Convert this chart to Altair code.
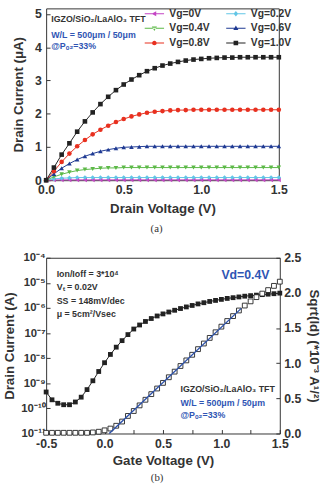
import altair as alt
import pandas as pd

FONT = "Liberation Sans"
SERIF = "Liberation Serif"
TXT = "#333333"
BLUE = "#2f55b4"

# ---------------- panel (a): output characteristics ----------------
drain_v = [0.00, 0.05, 0.10, 0.15, 0.20, 0.25, 0.30, 0.35, 0.40, 0.45,
           0.50, 0.55, 0.60, 0.65, 0.70, 0.75, 0.80, 0.85, 0.90, 0.95,
           1.00, 1.05, 1.10, 1.15, 1.20, 1.25, 1.30, 1.35, 1.40, 1.45, 1.50]
id_vg00 = [0.00, 0.01, 0.01, 0.01, 0.01, 0.01, 0.01, 0.01, 0.01, 0.01,
           0.01, 0.01, 0.01, 0.01, 0.01, 0.01, 0.01, 0.01, 0.01, 0.01,
           0.01, 0.01, 0.01, 0.01, 0.01, 0.01, 0.01, 0.01, 0.01, 0.01, 0.01]
id_vg02 = [0.00, 0.04, 0.06, 0.07, 0.08, 0.08, 0.08, 0.08, 0.08, 0.08,
           0.08, 0.08, 0.08, 0.08, 0.08, 0.08, 0.08, 0.08, 0.08, 0.08,
           0.08, 0.08, 0.08, 0.08, 0.08, 0.08, 0.08, 0.08, 0.08, 0.08, 0.08]
id_vg04 = [0.00, 0.10, 0.18, 0.24, 0.29, 0.32, 0.34, 0.36, 0.37, 0.37,
           0.38, 0.38, 0.38, 0.38, 0.38, 0.38, 0.38, 0.38, 0.38, 0.38,
           0.38, 0.38, 0.38, 0.38, 0.38, 0.38, 0.38, 0.38, 0.38, 0.38, 0.38]
id_vg06 = [0.00, 0.19, 0.36, 0.50, 0.62, 0.72, 0.80, 0.87, 0.92, 0.96,
           0.99, 1.00, 1.01, 1.02, 1.02, 1.02, 1.02, 1.02, 1.02, 1.02,
           1.02, 1.02, 1.02, 1.02, 1.02, 1.02, 1.02, 1.02, 1.02, 1.02, 1.02]
id_vg08 = [0.00, 0.27, 0.55, 0.80, 1.02, 1.21, 1.38, 1.52, 1.64, 1.75,
           1.84, 1.92, 1.98, 2.03, 2.06, 2.08, 2.10, 2.11, 2.11, 2.12,
           2.12, 2.12, 2.12, 2.12, 2.12, 2.12, 2.12, 2.12, 2.12, 2.12, 2.12]
id_vg10 = [0.00, 0.38, 0.77, 1.11, 1.46, 1.77, 2.04, 2.29, 2.51, 2.71,
           2.88, 3.03, 3.16, 3.28, 3.37, 3.45, 3.51, 3.56, 3.60, 3.63,
           3.65, 3.67, 3.68, 3.69, 3.69, 3.70, 3.70, 3.70, 3.70, 3.70, 3.70]

series_names = ["Vg=0V", "Vg=0.2V", "Vg=0.4V", "Vg=0.6V", "Vg=0.8V", "Vg=1.0V"]
series_colors = ["#c444c4", "#62c6e6", "#5cb947", "#1f3a93", "#e8301f", "#222222"]
series_shapes = ["triangle-left", "diamond", "triangle-down", "triangle-up", "circle", "square"]
# legend glyphs: a short line segment through the marker
seg = "M-4.2,-0.22H4.2V0.22H-4.2Z"
legend_shapes = [
    seg + "M-1.2,0L0.8,-1.1V1.1Z",
    seg + "M0,-1.2L1,0L0,1.2L-1,0Z",
    seg + "M0,1.2L1.1,-0.8H-1.1Z",
    seg + "M0,-1.2L1.1,0.8H-1.1Z",
    seg + "M-1,0A1,1,0,1,1,1,0A1,1,0,1,1,-1,0Z",
    seg + "M-1,-1H1V1H-1Z",
]
legend_order = [0, 2, 4, 1, 3, 5]   # legend fills column by column

# ---------------- panel (b): transfer characteristics ----------------
gate_v = [-0.50, -0.45, -0.40, -0.35, -0.30, -0.25, -0.20, -0.15, -0.10, -0.05,
          0.00, 0.05, 0.10, 0.15, 0.20, 0.25, 0.30, 0.35, 0.40, 0.45,
          0.50, 0.55, 0.60, 0.65, 0.70, 0.75, 0.80, 0.85, 0.90, 0.95,
          1.00, 1.05, 1.10, 1.15, 1.20, 1.25, 1.30, 1.35, 1.40, 1.45, 1.50]
drain_i = [4.5e-10, 2.2e-10, 1.6e-10, 1.4e-10, 1.4e-10, 1.8e-10, 2.8e-10, 5.6e-10, 1.26e-9, 2.95e-9,
           6.6e-9, 1.41e-8, 2.75e-8, 5.0e-8, 8.7e-8, 1.45e-7, 2.1e-7, 2.9e-7, 3.8e-7, 4.8e-7,
           5.8e-7, 6.9e-7, 8.1e-7, 9.5e-7, 1.1e-6, 1.26e-6, 1.45e-6, 1.62e-6, 1.82e-6, 2.0e-6,
           2.2e-6, 2.4e-6, 2.57e-6, 2.75e-6, 2.95e-6, 3.1e-6, 3.25e-6, 3.4e-6, 3.55e-6, 3.7e-6, 3.9e-6]
sqrt_i = [0.01, 0.01, 0.01, 0.01, 0.01, 0.01, 0.01, 0.01, 0.015, 0.025,
          0.045, 0.07, 0.11, 0.17, 0.25, 0.32, 0.40, 0.48, 0.56, 0.64,
          0.72, 0.80, 0.88, 0.96, 1.04, 1.12, 1.20, 1.28, 1.36, 1.44,
          1.52, 1.60, 1.67, 1.75, 1.82, 1.88, 1.94, 1.99, 2.04, 2.10, 2.16]
fit_x = [0.04, 1.17]
fit_y = [0.0, 1.78]

log_ticks = [1e-11, 1e-10, 1e-9, 1e-8, 1e-7, 1e-6, 1e-5, 1e-4]
log_labels = ["10⁻¹¹", "10⁻¹⁰", "10⁻⁹", "10⁻⁸", "10⁻⁷", "10⁻⁶", "10⁻⁵", "10⁻⁴"]

# ---------------- tables ----------------
rows = []
for name, vals in zip(series_names, [id_vg00, id_vg02, id_vg04, id_vg06, id_vg08, id_vg10]):
    for v, i in zip(drain_v, vals):
        rows.append({"vd": v, "id": i, "series": name})
df_a = pd.DataFrame(rows)
df_b = pd.DataFrame({"vg": gate_v, "id": drain_i, "sq": sqrt_i})
df_fit = pd.DataFrame({"vg": fit_x, "sq": fit_y})
one = pd.DataFrame({"k": [0]})

minor_label = ("abs(datum.value*2 - round(datum.value*2)) < 0.001 ? "
               "replace(format(datum.value, '.1f'), '\u2212', '-') : ''")

log_expr = ""
for t, lab in zip(log_ticks[:-1], log_labels[:-1]):
    log_expr += f"datum.value < {t * 3} ? '{lab}' : "
log_expr += f"'{log_labels[-1]}'"

leg_names = [series_names[i] for i in legend_order]
leg_colors = [series_colors[i] for i in legend_order]
leg_shapes = [legend_shapes[i] for i in legend_order]

# ---------------- panel (a) chart ----------------
sx_a = alt.Scale(domain=[0, 1.5], nice=False, zero=False)
sy_a = alt.Scale(domain=[0, 5.17], nice=False)
ax_xa = alt.Axis(values=[0, 0.25, 0.5, 0.75, 1.0, 1.25, 1.5], labelExpr=minor_label,
                 title="Drain Voltage (V)", offset=-4, tickSize=4, labelOverlap=False,
                 labelPadding=4, titlePadding=5, labelFlush=False)
ax_ya = alt.Axis(values=[0, 1, 2, 3, 4, 5], labelExpr="format(datum.value, 'd')",
                 title="Drain Current (μA)",
                 offset=-4, tickSize=4, labelPadding=5, titlePadding=9, labelFlush=False,
                 labelOverlap=False)
x_a = alt.X("vd:Q", scale=sx_a, axis=ax_xa)
y_a = alt.Y("id:Q", scale=sy_a, axis=ax_ya)
color_a = alt.Color("series:N", scale=alt.Scale(domain=series_names, range=series_colors), legend=None)

leg = alt.Legend(title=None, orient="none", legendX=105, legendY=0, columns=2,
                 symbolSize=22, symbolStrokeWidth=0,
                 labelFont=FONT, labelFontSize=10.5,
                 labelFontWeight="bold", labelColor=TXT, labelOffset=10, rowPadding=4,
                 columnPadding=16, padding=0, symbolOpacity=1)

lines_a = alt.Chart(df_a).mark_line(strokeWidth=1).encode(x=x_a, y=y_a, color=color_a)
points_a = alt.Chart(df_a).mark_point(filled=True, opacity=1, size=22).encode(
    x=x_a, y=y_a, color=color_a,
    shape=alt.Shape("series:N", scale=alt.Scale(domain=series_names, range=series_shapes), legend=None))
legend_a = alt.Chart(df_a).transform_filter("datum.id > 100").mark_point(filled=True, opacity=1).encode(
    x=x_a, y=y_a,
    fill=alt.Fill("series:N", scale=alt.Scale(domain=leg_names, range=leg_colors), legend=leg),
    shape=alt.Shape("series:N", scale=alt.Scale(domain=leg_names, range=leg_shapes), legend=leg))


def note_a(x, y, text, color, size):
    return alt.Chart(one).mark_text(text=text, align="left", baseline="middle", font=FONT,
                                     fontSize=size, fontWeight="bold", color=color).encode(
        x=alt.X(datum=x, type="quantitative", scale=sx_a, axis=ax_xa),
        y=alt.Y(datum=y, type="quantitative", scale=sy_a, axis=ax_ya))


top = alt.layer(
    lines_a, points_a, legend_a,
    note_a(0.033, 4.85, "IGZO/SiO₂/LaAlO₃ TFT", TXT, 9),
    note_a(0.033, 4.38, "W/L = 500μm / 50μm", BLUE, 9),
    note_a(0.033, 4.04, "@Pₒ₂=33%", BLUE, 9),
).resolve_scale(shape="independent", fill="independent").properties(
    width=237, height=175,
    title=alt.TitleParams("(a)", orient="bottom", font=SERIF, fontSize=11, fontWeight="normal",
                          color=TXT, anchor="middle", frame="group", dx=-6, offset=9))

# ---------------- panel (b) chart ----------------
sx_b = alt.Scale(domain=[-0.5, 1.5], nice=False, zero=False)
sy_b = alt.Scale(type="log", domain=[1e-11, 1e-4], nice=False)
sy_r = alt.Scale(domain=[0, 2.5], nice=False)
ax_xb = alt.Axis(values=[-0.5, -0.25, 0, 0.25, 0.5, 0.75, 1.0, 1.25, 1.5], labelExpr=minor_label,
                 title="Gate Voltage (V)", offset=-4, tickSize=4, labelOverlap=False,
                 labelPadding=4, titlePadding=4, labelFlush=False)
ax_yb = alt.Axis(values=log_ticks, labelExpr=log_expr, title="Drain Current (A)",
                 offset=-4, tickSize=4, labelPadding=1, titlePadding=5, labelFlush=False,
                 labelFontSize=11.5, labelOverlap=False)
ax_yr = alt.Axis(orient="right", values=[0, 0.5, 1.0, 1.5, 2.0, 2.5], format=".1f",
                 title="Sqrt(Id) (*10⁻³ A¹/²)", offset=-4, tickSize=4, labelPadding=4,
                 titlePadding=6, labelFlush=False, labelOverlap=False)
x_b = alt.X("vg:Q", scale=sx_b, axis=ax_xb)
y_b = alt.Y("id:Q", scale=sy_b, axis=ax_yb)
y_r = alt.Y("sq:Q", scale=sy_r, axis=ax_yr)

line_b = alt.Chart(df_b).mark_line(strokeWidth=1, color="#222").encode(x=x_b, y=y_b)
pts_b = alt.Chart(df_b).mark_point(shape="square", filled=True, opacity=1, size=24, color="#222").encode(x=x_b, y=y_b)


def note_b(x, y, text, color, size):
    return alt.Chart(one).mark_text(text=text, align="left", baseline="middle", font=FONT,
                                     fontSize=size, fontWeight="bold", color=color).encode(
        x=alt.X(datum=x, type="quantitative", scale=sx_b, axis=ax_xb),
        y=alt.Y(datum=y, type="quantitative", scale=sy_b, axis=ax_yb))


left_b = alt.layer(
    line_b, pts_b,
    note_b(-0.41, 2.3e-5, "Ion/Ioff = 3*10⁴", TXT, 9),
    note_b(-0.41, 7.0e-6, "Vₜ = 0.02V", TXT, 9),
    note_b(-0.41, 1.92e-6, "SS = 148mV/dec", TXT, 9),
    note_b(-0.41, 5.8e-7, "μ = 5cm²/Vsec", TXT, 9),
    note_b(1.0, 2.0e-5, "Vd=0.4V", BLUE, 12.5),
    note_b(0.65, 5.9e-10, "IGZO/SiO₂/LaAlO₃ TFT", TXT, 9),
    note_b(0.65, 1.58e-10, "W/L = 500μm / 50μm", BLUE, 9),
    note_b(0.65, 5.4e-11, "@Pₒ₂=33%", BLUE, 9),
)

open_b = alt.Chart(df_b).mark_point(shape="square", filled=True, fill="white", stroke="#222",
                                    strokeWidth=0.9, opacity=1, size=24).encode(x=x_b, y=y_r)
fit_b = alt.Chart(df_fit).mark_line(strokeWidth=1.4, color="#2a4fa8").encode(x=x_b, y=y_r)
right_b = alt.layer(open_b, fit_b)

bottom = alt.layer(left_b, right_b).resolve_scale(y="independent").properties(
    width=238, height=179,
    title=alt.TitleParams("(b)", orient="bottom", font=SERIF, fontSize=11, fontWeight="normal",
                          color=TXT, anchor="middle", frame="group", dx=-6, offset=5))

chart = alt.vconcat(top, bottom, spacing=16).properties(
    padding={"left": 1, "top": 3, "right": 2, "bottom": 2}
).configure_view(stroke="#333", strokeWidth=1).configure_axis(
    grid=False, domain=False, labelFont=FONT, labelFontSize=12.5, labelFontWeight="bold",
    labelColor=TXT, titleFont=FONT, titleFontSize=13.5, titleFontWeight="bold", titleColor=TXT,
    tickColor="#333", tickWidth=1
)

chart.save("out.html", embed_options={"renderer": "svg", "actions": False})
